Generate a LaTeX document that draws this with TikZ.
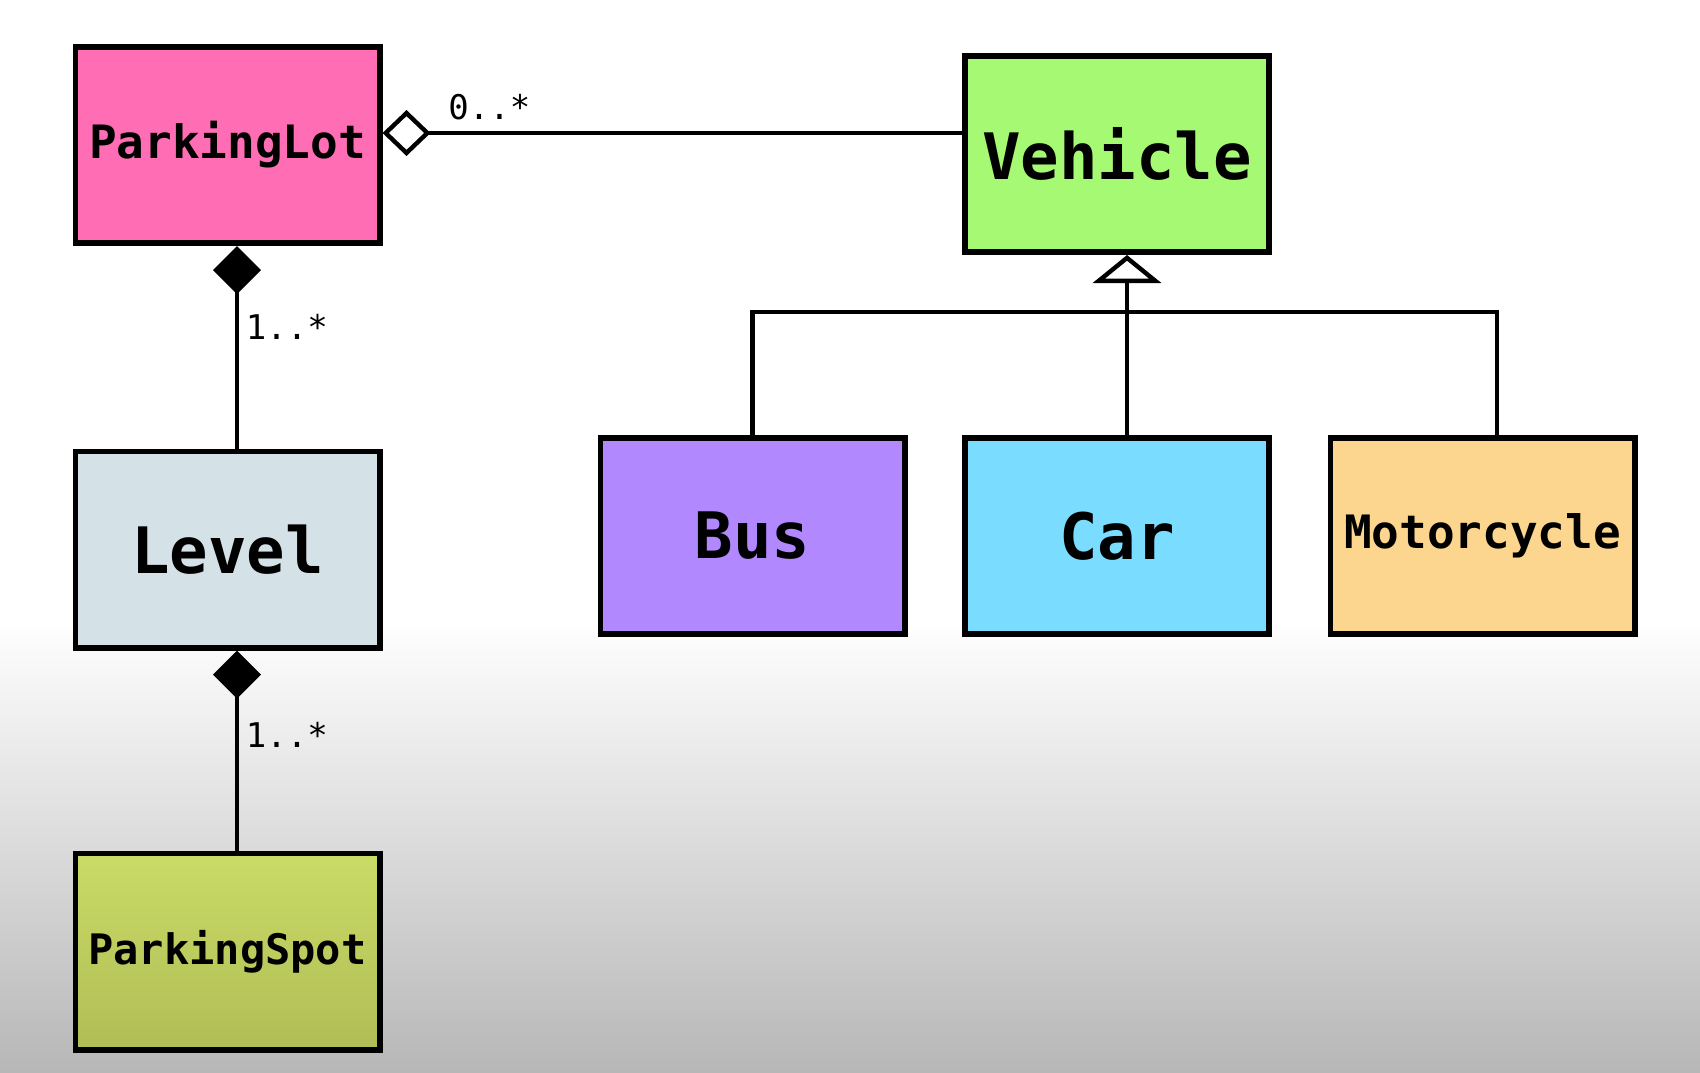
\documentclass[tikz,border=0pt]{standalone}
\usepackage{fontspec}
\setmonofont{DejaVu Sans Mono}
\usetikzlibrary{arrows.meta}
\definecolor{lotpink}{RGB}{255,110,180}
\definecolor{vehgreen}{RGB}{166,250,115}
\definecolor{lvlgray}{RGB}{212,225,230}
\definecolor{spottop}{RGB}{202,219,102}
\definecolor{spotbot}{RGB}{176,189,86}
\definecolor{buspurple}{RGB}{178,136,255}
\definecolor{carblue}{RGB}{122,220,255}
\definecolor{motoorange}{RGB}{252,213,143}
\definecolor{bggray}{RGB}{183,183,183}
\begin{document}
\begin{tikzpicture}[x=0.5pt, y=-0.5pt,
    box/.style={draw, line width=2.8pt, minimum width=152.2pt, minimum height=98.2pt, inner sep=0pt,
        font=\ttfamily\bfseries\fontsize{32}{32}\selectfont},
    midtext/.style={font=\ttfamily\bfseries\fontsize{23}{23}\selectfont},
    spottext/.style={font=\ttfamily\bfseries\fontsize{21}{21}\selectfont},
    link/.style={line width=2.2pt},
    mult/.style={font=\ttfamily\fontsize{17}{17}\selectfont}]
    \useasboundingbox (0,0) rectangle (1700,1072);
    \fill[white] (0,0) rectangle (1700,621);
    \shade[top color=white, bottom color=bggray] (0,620) rectangle (1700,1072);

    \node[box, fill=lotpink, midtext] (lot) at (227.5,145) {ParkingLot};
    \node[box, fill=vehgreen] (veh) at (1117,154) {Vehicle};
    \node[box, fill=lvlgray] (lvl) at (227.5,549.5) {Level};
    \node[box, top color=spottop, bottom color=spotbot, spottext] (spot) at (227.5,951.5) {ParkingSpot};
    \node[box, fill=buspurple] (bus) at (752.5,536) {Bus};
    \node[box, fill=carblue] (car) at (1117,536) {Car};
    \node[box, fill=motoorange, midtext] (moto) at (1482.5,536) {Motorcycle};

    \draw[link, {Diamond[open, length=24pt, width=23pt]}-] ([yshift=6pt]lot.east) -- ([yshift=6pt]lot.east -| veh.west)
        node[mult, pos=0.11, anchor=south west, inner sep=0pt, yshift=5.5pt] {0..*};
    \draw[link, {Diamond[length=24pt, width=24pt]}-] ([xshift=4.75pt]lot.south) -- ([xshift=4.75pt]lvl.north)
        node[mult, pos=0.4, right] {1..*};
    \draw[link, {Diamond[length=24pt, width=24pt]}-] ([xshift=4.75pt]lvl.south) -- ([xshift=4.75pt]spot.north)
        node[mult, pos=0.42, right] {1..*};

    \coordinate (hub) at (1127,312);
    \draw[link] (bus.north) |- (hub) -| ([xshift=7.25pt]moto.north);
    \draw[link, -{Triangle[open, length=14pt, width=34pt]}] ([xshift=5pt]car.north) -- ([xshift=5pt]veh.south);
\end{tikzpicture}
\end{document}
